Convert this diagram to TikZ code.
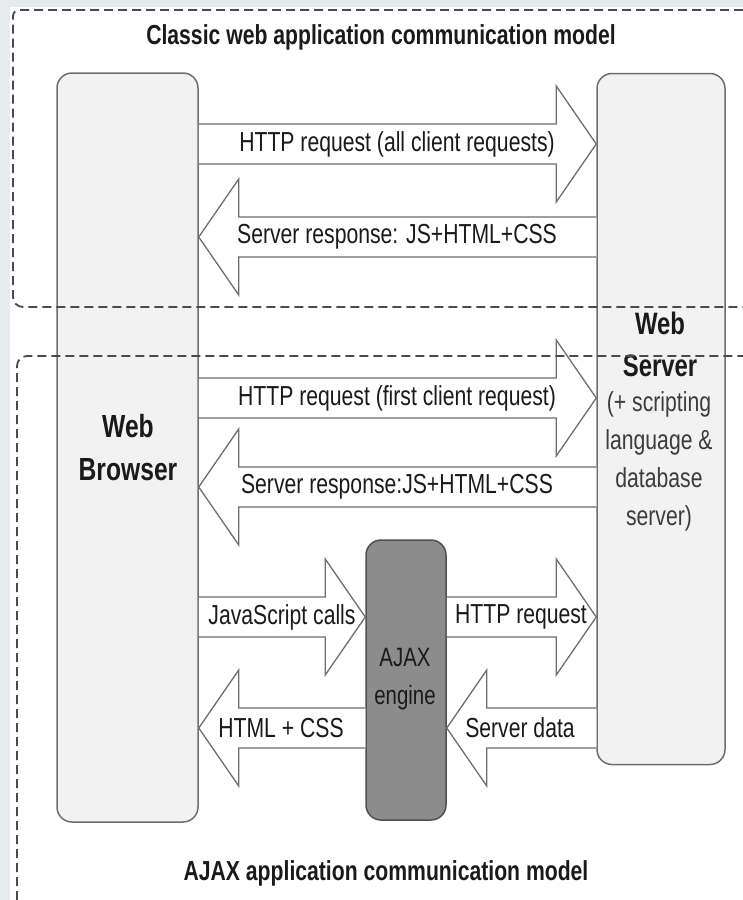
\documentclass[tikz,border=0pt]{standalone}
\usepackage{fontspec}
\setmainfont{Liberation Sans}[FakeStretch=0.77]
\usetikzlibrary{calc}
\definecolor{bgout}{HTML}{E6ECEE}
\definecolor{boxfill}{HTML}{F2F2F2}
\definecolor{boxline}{HTML}{6E6E6E}
\definecolor{ajaxfill}{HTML}{8C8C8C}
\definecolor{ajaxline}{HTML}{505050}
\definecolor{txt}{HTML}{1A1A1A}
\definecolor{dashc}{HTML}{4A4A4A}
\tikzset{
  x=1pt, y=1pt,
  tier/.style={draw=boxline, line width=1.5pt, fill=boxfill, rounded corners=15pt, inner sep=0pt},
  engine/.style={draw=ajaxline, line width=1.5pt, fill=ajaxfill, rounded corners=15pt, inner sep=0pt},
  blockarrow/.style={draw=boxline, line width=1.3pt, fill=white, line join=miter},
  lbl/.style={text=txt, font=\fontsize{27.5}{38}\selectfont, inner sep=0pt},
  biglbl/.style={text=txt, font=\bfseries\fontsize{32}{43}\selectfont, align=center, inner sep=0pt},
  ttl/.style={text=txt, font=\bfseries\fontsize{27.5}{30}\selectfont, inner sep=0pt},
  modelbox/.style={draw=dashc, line width=1.8pt, dash pattern=on 9pt off 5pt},
}
% right-pointing block arrow: from anchor #1 to anchor #2 at height #3
\newcommand\blockRight[3]{%
  \draw[blockarrow] let \p1=(#1), \p2=(#2) in
    (\x1,#3+20) -- (\x2-40,#3+20) -- (\x2-40,#3+58) -- (\x2,#3)
    -- (\x2-40,#3-58) -- (\x2-40,#3-20) -- (\x1,#3-20);}
% left-pointing block arrow: from anchor #1 (right side) to anchor #2 (left side) at height #3
\newcommand\blockLeft[3]{%
  \draw[blockarrow] let \p1=(#1), \p2=(#2) in
    (\x1,#3+20) -- (\x2+40,#3+20) -- (\x2+40,#3+58) -- (\x2,#3)
    -- (\x2+40,#3-58) -- (\x2+40,#3-20) -- (\x1,#3-20);}
\begin{document}
\begin{tikzpicture}
\useasboundingbox (0,0) rectangle (743,-900);
\fill[bgout] (0,0) rectangle (743,-900);
\fill[white] (10,-7) rectangle (743,-900);

% tiers
\node[tier, minimum width=141pt, minimum height=749pt] (browser) at (127.5,-447.5) {};
\node[tier, minimum width=128pt, minimum height=691pt] (server) at (661,-419) {};
\node[engine, minimum width=80pt, minimum height=280pt] (ajax) at (406,-680) {};

% titles
\node[ttl] (classictitle) at (381,-37) {Classic web application communication model};
\node[ttl] (ajaxtitle) at (386,-873) {AJAX application communication model};

% tier labels
\node[biglbl] (browserlbl) at (128,-448) {Web\\Browser};
\node[biglbl, font=\bfseries\fontsize{31}{42}\selectfont] (serverlbl) at (660,-344) {Web\\Server};
\node[lbl, align=center, text=txt!85!white] (serverdesc) at (659,-461.5) {(+ scripting\\language \&\\database\\server)};
\node[lbl, align=center, font=\fontsize{26.5}{38}\selectfont, text=txt] (ajaxlbl) at (405,-679) {AJAX\\engine};

% classic arrows
\blockRight{browser.east}{server.west}{-144}
\node[lbl] (a1) at (397,-144) {HTTP request (all client requests)};
\blockLeft{server.west}{browser.east}{-237}
\node[lbl] (a2) at (397,-237) {Server response: JS+HTML+CSS};

% ajax model arrows
\blockRight{browser.east}{server.west}{-398}
\node[lbl] (a3) at (397,-398) {HTTP request (first client request)};
\blockLeft{server.west}{browser.east}{-487}
\node[lbl] (a4) at (397,-487) {Server response:JS+HTML+CSS};

\blockRight{browser.east}{ajax.west}{-617}
\node[lbl] (a5) at (282,-617) {JavaScript calls};
\blockRight{ajax.east}{server.west}{-617}
\node[lbl] (a6) at (521,-617) {HTTP request};
\blockLeft{ajax.west}{browser.east}{-728}
\node[lbl] (a7) at (281,-728) {HTML + CSS};
\blockLeft{server.west}{ajax.east}{-728}
\node[lbl] (a8) at (520,-728) {Server data};

% dashed model frames (drawn on top)
\draw[modelbox, rounded corners=6pt] (743,-10) -- (13,-10) -- (13,-150);
\draw[modelbox, rounded corners=10pt] (13,-150) -- (13,-307) -- (743,-307);
\draw[modelbox, rounded corners=10pt] (17,-900) -- (17,-356) -- (743,-356);
\end{tikzpicture}
\end{document}
